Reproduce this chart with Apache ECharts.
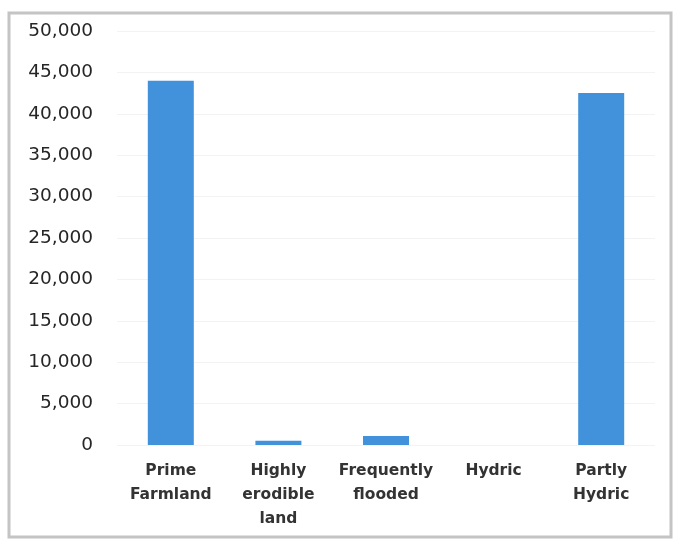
<!DOCTYPE html>
<html>
<head>
<meta charset="utf-8">
<script src="https://cdn.jsdelivr.net/npm/echarts@6/dist/echarts.min.js"></script>
<style>
  html, body { margin: 0; padding: 0; background: #ffffff; }
  #chart { width: 680px; height: 544px; }
</style>
</head>
<body>
<div id="chart"></div>
<script>
// Soil categories on the x axis
const categories = ['Prime\nFarmland', 'Highly\nerodible\nland', 'Frequently\nflooded', 'Hydric', 'Partly\nHydric'];
// Acres in each category
const acres = [44000, 500, 1100, 0, 42500];
// Value axis range
const yMin = 0;
const yMax = 50000;
const yStep = 5000;

const chart = echarts.init(document.getElementById('chart'), null, { renderer: 'canvas' });

chart.setOption({
  backgroundColor: '#ffffff',
  animation: false,
  graphic: [{
    type: 'rect',
    shape: { x: 9, y: 13, width: 662, height: 524 },
    style: { fill: 'none', stroke: '#c4c4c4', lineWidth: 3 },
    silent: true
  }],
  grid: { left: 117, right: 25, top: 31, bottom: 99, containLabel: false },
  xAxis: {
    type: 'category',
    data: categories,
    axisLine: { show: false },
    axisTick: { show: false },
    axisLabel: {
      interval: 0,
      margin: 14,
      color: '#333333',
      fontFamily: 'DejaVu Sans',
      fontWeight: 'bold',
      fontSize: 15.5,
      lineHeight: 24,
      verticalAlign: 'top'
    }
  },
  yAxis: {
    type: 'value',
    min: yMin,
    max: yMax,
    interval: yStep,
    axisLine: { show: false },
    axisTick: { show: false },
    splitLine: { lineStyle: { color: '#f3f3f3', width: 1 } },
    axisLabel: {
      margin: 24,
      color: '#262626',
      fontFamily: 'DejaVu Sans',
      fontSize: 18.5,
      formatter: v => v.toLocaleString('en-US')
    }
  },
  series: [{
    type: 'bar',
    data: acres,
    barWidth: 46,
    itemStyle: { color: '#4291db' }
  }]
});
</script>
</body>
</html>
